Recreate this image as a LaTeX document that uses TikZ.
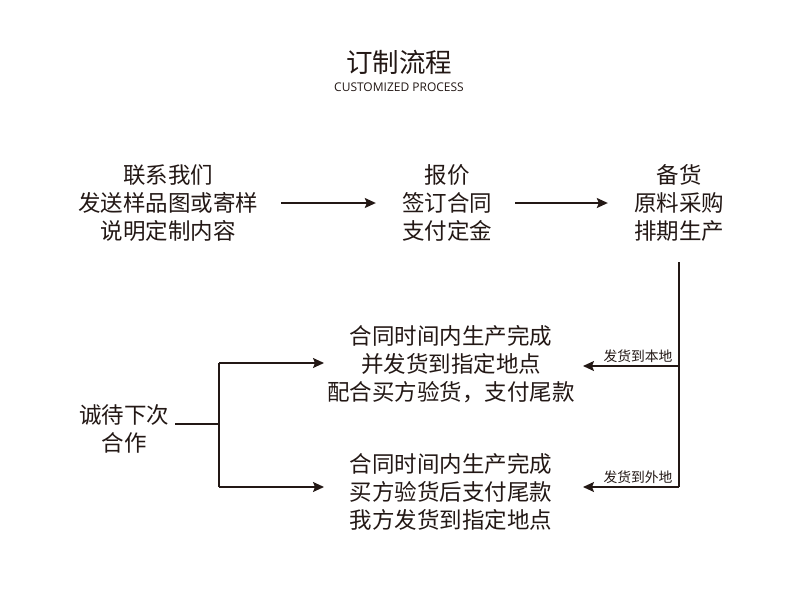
\documentclass[tikz,border=0pt]{standalone}
\usepackage{fontspec}
\setmainfont{Noto Sans CJK SC}
\newfontfamily\latinsans{Open Sans}
\usetikzlibrary{arrows.meta,calc}
\definecolor{ink}{HTML}{231815}
\tikzset{
  txt/.style={align=center, text=ink, inner sep=0pt, font=\fontsize{22.5}{28.2}\selectfont},
  lbl/.style={text=ink, inner sep=0pt, font=\fontsize{13.8}{15}\selectfont},
  ln/.style={draw=ink, line width=1.4pt},
  arr/.style={ln, -{Stealth[length=11pt,width=10pt,inset=2pt]}}
}
\begin{document}
\begin{tikzpicture}[x=1pt,y=-1pt]
\useasboundingbox[fill=white] (0,0) rectangle (790,611);
\node[text=ink, inner sep=0pt, font=\fontsize{26.5}{28}\selectfont] (title) at (399,62) {订制流程};
\node[text=ink, inner sep=0pt, font=\latinsans\fontsize{12}{14}\selectfont] (sub) at (399,87) {CUSTOMIZED PROCESS};

\node[txt] (n1) at (168,203) {联系我们\\发送样品图或寄样\\说明定制内容};
\node[txt] (n2) at (447,203) {报价\\签订合同\\支付定金};
\node[txt] (n3) at (679,203) {备货\\原料采购\\排期生产};

\node[txt] (m1) at (451,364) {合同时间内生产完成\\并发货到指定地点\\配合买方验货，支付尾款};
\node[txt] (m2) at (451,492) {合同时间内生产完成\\买方验货后支付尾款\\我方发货到指定地点};
\node[txt] (L) at (124,429) {诚待下次\\合作};

\draw[arr, shorten <=23pt, shorten >=26pt] (n1.east |- 0,203) -- (n2.west |- 0,203);
\draw[arr, shorten <=23pt, shorten >=26pt] (n2.east |- 0,203) -- (n3.west |- 0,203);

\coordinate (top) at (679,262);
\coordinate (j1) at (679,366);
\coordinate (j2) at (679,487);
\coordinate (e1) at (583,366);
\coordinate (e2) at (583,487);
\draw[ln] (top) -- (j2);
\draw[arr] (j1) -- (e1);
\draw[arr] (j2) -- (e2);
\node[lbl, anchor=south] (l1) at ($(j1)!0.5!(e1)+(7,-3)$) {发货到本地};
\node[lbl, anchor=south] (l2) at ($(j2)!0.5!(e2)+(7,-3)$) {发货到外地};

\coordinate (b) at (219,424);
\coordinate (bt) at (219,363);
\coordinate (bb) at (219,487);
\coordinate (t1) at (324,363);
\coordinate (t2) at (324,487);
\draw[ln] (L.east |- b) ++(6,0) -- (b);
\draw[ln] (bt) -- (bb);
\draw[arr] (bt) -- (t1);
\draw[arr] (bb) -- (t2);
\end{tikzpicture}
\end{document}
